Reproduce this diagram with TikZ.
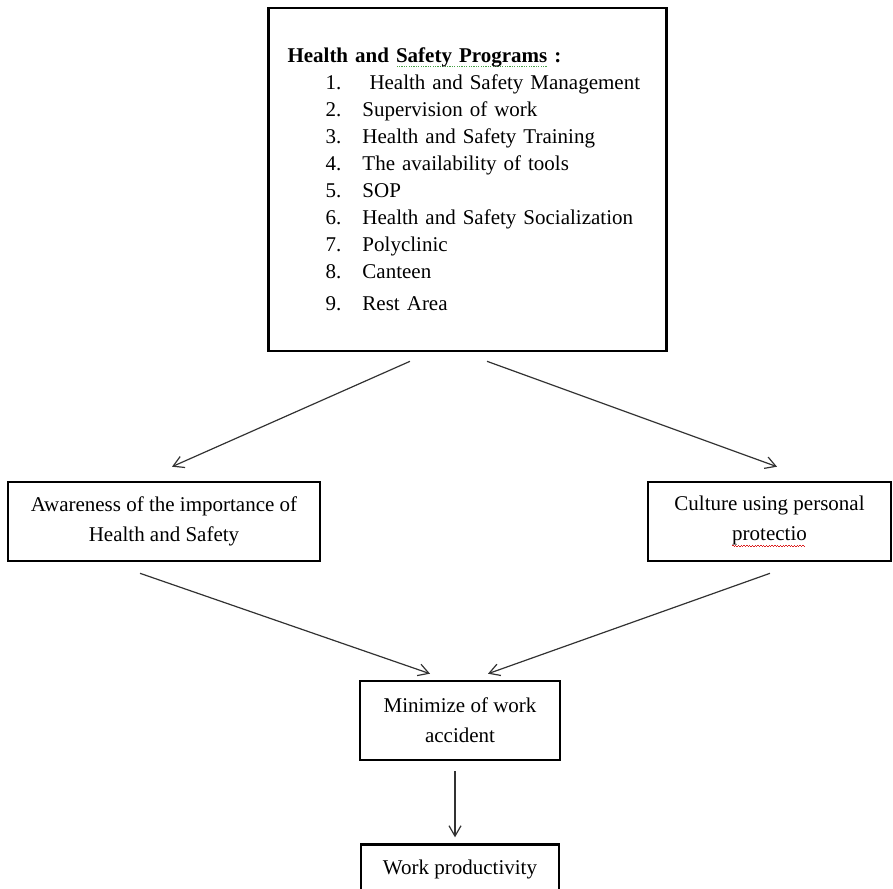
\documentclass[tikz,border=0pt]{standalone}
\usepackage{fontspec}
\setmainfont{Liberation Serif}
\usepackage{xcolor}
\definecolor{arrowgray}{RGB}{50, 50, 50}
\definecolor{spellgreen}{RGB}{70, 160, 70}
\definecolor{spellred}{RGB}{220, 30, 30}
\usepackage{tikz}
\usetikzlibrary{arrows.meta, positioning, calc}

\newcommand{\progitem}[2]{\hspace*{19pt}\makebox[18.5pt][l]{#1.}#2}
\newcommand{\greendots}[1]{\setbox0=\hbox{#1}\rlap{\textcolor{spellgreen}{\hbox to \wd0{\leaders\hbox to 1.2pt{\hss\rule[-2.2pt]{0.6pt}{0.6pt}\hss}\hfill}}}#1}
\newcommand{\redwave}[1]{\setbox0=\hbox{#1}\rlap{\textcolor{spellred}{\hbox to \wd0{\leaders\hbox{\rule[-2.6pt]{0.7pt}{0.5pt}\rule[-3.2pt]{0.7pt}{0.5pt}}\hfill}}}#1}

\begin{document}
\begin{tikzpicture}[x=0.5pt, y=-0.5pt,
        box/.style={rectangle, draw=black, line width=1.3pt, align=center, inner sep=0pt, minimum height=39.5pt, font=\fontsize{10.5}{15}\selectfont},
        link/.style={draw=arrowgray, line width=0.6pt, -{Straight Barb[angle=60:6pt]}}]

        \useasboundingbox (0,0) rectangle (893,888);

        \node [box, align=left, text width=180pt, inner xsep=9.5pt, minimum height=171.5pt, font=\fontsize{10.5}{13.5}\selectfont] (prog) at (467.5,179.5) {\textbf{Health and \greendots{Safety Programs} :}\\
        \progitem{1}{\hspace{3.5pt}Health and Safety Management}\\
        \progitem{2}{Supervision of work}\\
        \progitem{3}{Health and Safety Training}\\
        \progitem{4}{The availability of tools}\\
        \progitem{5}{SOP}\\
        \progitem{6}{Health and Safety Socialization}\\
        \progitem{7}{Polyclinic}\\
        \progitem{8}{Canteen}\\[2.5pt]
        \progitem{9}{Rest Area}};

        \node [box, minimum width=156pt] (aware) at (164,521.5) {Awareness of the importance of\\Health and Safety};

        \node [box, minimum width=121.5pt] (culture) at (769.5,521.5) {Culture using personal\\\redwave{protectio}};

        \node [box, minimum width=100pt] (minim) at (460,720.5) {Minimize of work\\accident};

        \node [box, minimum width=99pt, minimum height=25pt, below=41pt of minim] (prod) {Work productivity};

        \path [link] ($(prog.south)+(-57.5,9)$) -- ($(aware.north)+(8,-14)$);
        \path [link] ($(prog.south)+(19.5,9)$) -- ($(culture.north)+(7.5,-14)$);
        \path [link] ($(aware.south)+(-24,11)$) -- ($(minim.north)+(-30,-6)$);
        \path [link] ($(culture.south)+(0.5,11)$) -- ($(minim.north)+(28,-6)$);
        \path [link] ($(minim.south)+(-5,10)$) -- ($(prod.north)+(-5,-6)$);
    \end{tikzpicture}
\end{document}
